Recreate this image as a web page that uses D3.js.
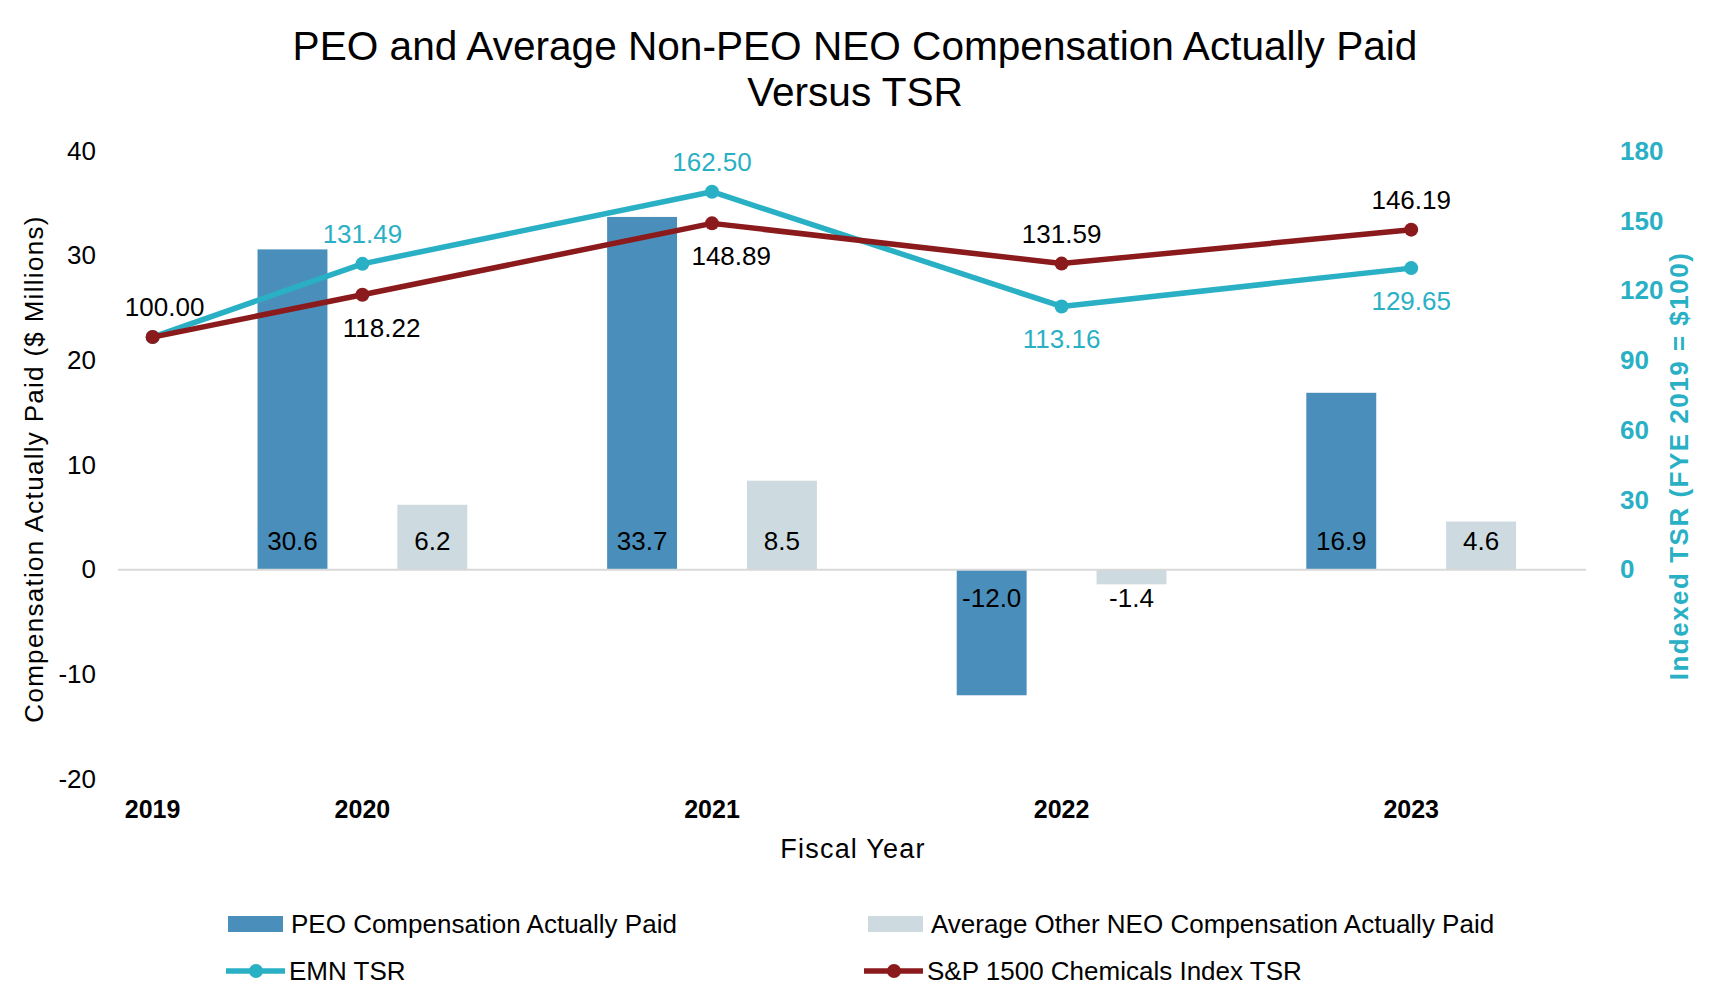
<!DOCTYPE html>
<html>
<head>
<meta charset="utf-8">
<script src="https://cdn.jsdelivr.net/npm/d3@7"></script>
<style>
  body { margin: 0; background: #fff; }
  text { font-family: "Liberation Sans", Arial, sans-serif; }
</style>
</head>
<body>
<svg id="chart" width="1710" height="1006"></svg>
<script>
// data
let years = ["2019", "2020", "2021", "2022", "2023"];
let barYears = ["2020", "2021", "2022", "2023"];
let peoComp = [30.6, 33.7, -12.0, 16.9];
let neoComp = [6.2, 8.5, -1.4, 4.6];
let emnTsr = [100.00, 131.49, 162.50, 113.16, 129.65];
let spTsr = [100.00, 118.22, 148.89, 131.59, 146.19];
let leftTicks = [-20, -10, 0, 10, 20, 30, 40];
let rightTicks = [0, 30, 60, 90, 120, 150, 180];

let svg = d3.select("#chart");
let plotL = 118, plotR = 1586, plotT = 151, plotB = 779;

let teal = "#2AB0C5", red = "#8B1A1C", peoCol = "#4A8FBB", neoCol = "#CDDADF";

let xBand = d3.scaleBand().domain(barYears).range([187.6, 1586]);
let bw = xBand.bandwidth();
let yL = d3.scaleLinear().domain([-20, 40]).range([plotB, plotT]);
let yR = d3.scaleLinear().domain([-90, 180]).range([plotB, plotT]);

function xCat(y) {
  if (y === "2019") return xBand("2020") + bw / 2 - 0.6 * bw;
  return xBand(y) + bw / 2;
}

// title
let title = svg.append("text").attr("x", 855).attr("text-anchor", "middle")
  .style("font-size", "40.6px").attr("fill", "#000");
title.append("tspan").attr("x", 855).attr("y", 60).text("PEO and Average Non-PEO NEO Compensation Actually Paid");
title.append("tspan").attr("x", 855).attr("y", 106).text("Versus TSR");

// left axis
let axL = svg.append("g").attr("transform", "translate(" + (plotL - 22) + ",0)")
  .call(d3.axisLeft(yL).tickValues(leftTicks).tickSize(0).tickPadding(0).tickFormat(d => String(d)));
axL.select(".domain").remove();
axL.selectAll("text").style("font-size", "26px").attr("fill", "#000")
  .style("font-family", "Liberation Sans, Arial, sans-serif");

// right axis
let axR = svg.append("g").attr("transform", "translate(1620,0)")
  .call(d3.axisRight(yR).tickValues(rightTicks).tickSize(0).tickPadding(0).tickFormat(d => String(d)));
axR.select(".domain").remove();
axR.selectAll("text").style("font-size", "26px").style("font-weight", "bold").attr("fill", teal)
  .style("font-family", "Liberation Sans, Arial, sans-serif");

// bars
let bars = svg.append("g");
bars.selectAll(".peo").data(peoComp).enter().append("rect")
  .attr("x", (d, i) => xBand(barYears[i]) + bw / 2 - 0.3 * bw)
  .attr("width", 0.2 * bw)
  .attr("y", d => yL(Math.max(0, d)))
  .attr("height", d => Math.abs(yL(d) - yL(0)))
  .attr("fill", peoCol);
bars.selectAll(".neo").data(neoComp).enter().append("rect")
  .attr("x", (d, i) => xBand(barYears[i]) + bw / 2 + 0.1 * bw)
  .attr("width", 0.2 * bw)
  .attr("y", d => yL(Math.max(0, d)))
  .attr("height", d => Math.abs(yL(d) - yL(0)))
  .attr("fill", neoCol);

// zero line
svg.append("line").attr("x1", plotL).attr("x2", plotR)
  .attr("y1", yL(0)).attr("y2", yL(0))
  .attr("stroke", "#D9D9D9").attr("stroke-width", 2);

// bar labels (inside base)
function barLabels(vals, off) {
  svg.append("g").selectAll("text").data(vals).enter().append("text")
    .attr("x", (d, i) => xBand(barYears[i]) + bw / 2 + off * bw)
    .attr("y", d => d >= 0 ? yL(0) - 20 : yL(0) + 37)
    .attr("text-anchor", "middle").style("font-size", "26px").attr("fill", "#000")
    .text(d => d.toFixed(1));
}
barLabels(peoComp, -0.2);
barLabels(neoComp, 0.2);

// lines
let lineGen = d3.line().x((d, i) => xCat(years[i])).y(d => yR(d));
function drawSeries(vals, col) {
  svg.append("path").datum(vals).attr("d", lineGen)
    .attr("fill", "none").attr("stroke", col).attr("stroke-width", 5.5)
    .attr("stroke-linejoin", "round");
  svg.append("g").selectAll("circle").data(vals).enter().append("circle")
    .attr("cx", (d, i) => xCat(years[i])).attr("cy", d => yR(d))
    .attr("r", 7).attr("fill", col);
}
drawSeries(emnTsr, teal);
drawSeries(spTsr, red);

// line labels: higher series above, lower below
function lineLabels(vals, other, isRed) {
  svg.append("g").selectAll("text").data(vals).enter()
    .filter((d, i) => i > 0 || isRed)
    .append("text")
    .attr("x", function (d) {
      let i = vals.indexOf(d);
      let x = xCat(years[i]);
      if (i === 0) return x + 12;
      if (isRed && d < other[i]) return x + 0.055 * bw;
      return x;
    })
    .attr("y", function (d) {
      let i = vals.indexOf(d);
      let above = d >= other[i];
      return above ? yR(d) - 21 : yR(d) + 42;
    })
    .attr("text-anchor", "middle").style("font-size", "26px")
    .attr("fill", isRed ? "#000" : teal)
    .text(d => d.toFixed(2));
}
lineLabels(emnTsr, spTsr, false);
lineLabels(spTsr, emnTsr, true);

// x category labels
svg.append("g").selectAll("text").data(years).enter().append("text")
  .attr("x", d => xCat(d)).attr("y", 818)
  .attr("text-anchor", "middle").style("font-size", "25px").style("font-weight", "bold")
  .attr("fill", "#000").text(d => d);

// axis titles
svg.append("text").attr("x", 853).attr("y", 858).attr("text-anchor", "middle")
  .style("font-size", "27px").style("letter-spacing", "1.2px").attr("fill", "#000").text("Fiscal Year");
svg.append("text").attr("transform", "translate(43,469) rotate(-90)")
  .attr("text-anchor", "middle").style("font-size", "26px").style("letter-spacing", "1.3px")
  .attr("fill", "#000").text("Compensation Actually Paid ($ Millions)");
svg.append("text").attr("transform", "translate(1688,466) rotate(-90)")
  .attr("text-anchor", "middle").style("font-size", "26px").style("font-weight", "bold")
  .style("letter-spacing", "1.5px").attr("fill", teal).text("Indexed TSR (FYE 2019 = $100)");

// legend
let leg = svg.append("g");
let legItems = [
  { name: "PEO Compensation Actually Paid", col: peoCol, type: "bar", x: 228, y: 924 },
  { name: "Average Other NEO Compensation Actually Paid", col: neoCol, type: "bar", x: 868, y: 924 },
  { name: "EMN TSR", col: teal, type: "line", x: 226, y: 971 },
  { name: "S&P 1500 Chemicals Index TSR", col: red, type: "line", x: 864, y: 971 }
];
legItems.forEach(it => {
  let g = leg.append("g").attr("transform", "translate(" + it.x + "," + it.y + ")");
  if (it.type === "bar") {
    g.append("rect").attr("x", 0).attr("y", -8).attr("width", 55).attr("height", 16).attr("fill", it.col);
  } else {
    g.append("line").attr("x1", 0).attr("x2", 59).attr("y1", 0).attr("y2", 0)
      .attr("stroke", it.col).attr("stroke-width", 5.5);
    g.append("circle").attr("cx", 30).attr("cy", 0).attr("r", 7).attr("fill", it.col);
  }
  g.append("text").attr("x", 63).attr("y", 9).style("font-size", "26px").attr("fill", "#000").text(it.name);
});
</script>
</body>
</html>
